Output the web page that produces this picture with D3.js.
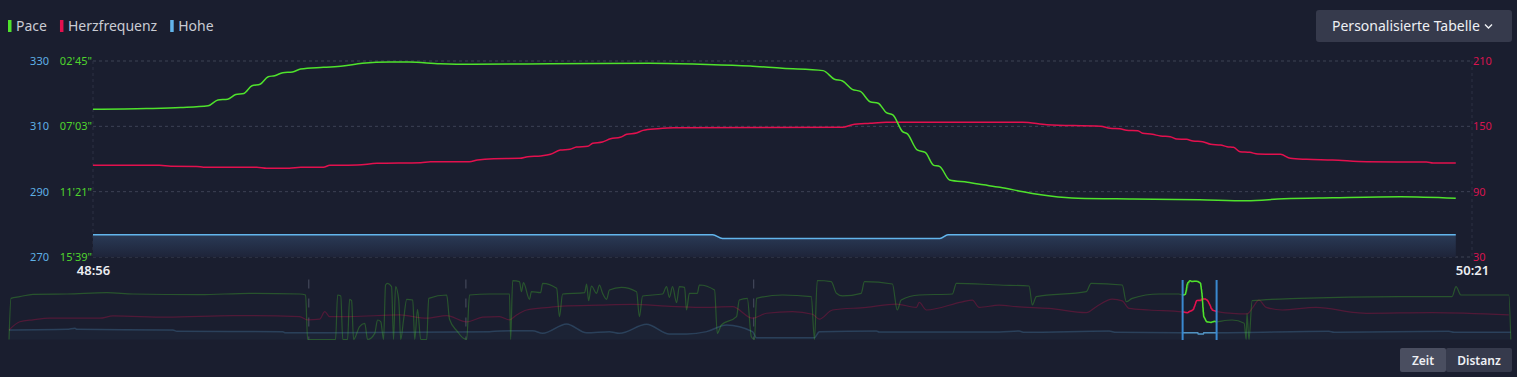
<!DOCTYPE html>
<html>
<head>
<meta charset="utf-8">
<script src="https://cdn.jsdelivr.net/npm/d3@7"></script>
<style>
html, body { margin: 0; background: #1a1e2f; overflow: hidden; }
svg { display: block; font-family: "Noto Sans", "Open Sans", sans-serif; }
</style>
</head>
<body>
<div id="chart"></div>
<script>
// zoomed window, seconds of the activity (48:56 -> 50:21)
const winStart = 2936
const winEnd = 3021

// main chart, t = seconds after winStart
const paceT = [0, 3.3, 5.4, 7.1, 7.7, 8.3, 8.8, 9.3, 9.8, 10.3, 10.8, 11.2, 11.7, 12.3, 12.8, 14.2, 15.4, 16.6, 18.3, 19.5, 21.4, 23.4, 28.2, 34.3, 37.4, 40.5, 42.5, 45.0, 45.7, 46.2, 46.8, 47.3, 47.9, 48.4, 48.9, 49.3, 49.9, 50.2, 50.8, 51.3, 51.8, 52.2, 52.8, 53.9, 54.9, 55.9, 57.0, 57.9, 59.0, 60.7, 64.1, 68.2, 71.1, 73.4, 76.4, 80.6, 84.0]
const paceV = [356, 353, 349, 342, 319, 316, 297, 293, 263, 257, 227, 223, 211, 208, 197, 190, 185, 174, 169, 169, 176, 178, 176, 174, 178, 185, 194, 203, 237, 244, 277, 285, 326, 332, 369, 378, 444, 453, 516, 526, 576, 582, 635, 644, 654, 664, 677, 688, 698, 707, 710, 713, 717, 709, 705, 701, 707]

const hrT = [0, 4.1, 4.8, 6.4, 6.8, 10.1, 10.7, 12.1, 12.8, 14.2, 14.6, 16.3, 17.5, 20.2, 20.8, 23.2, 23.7, 24.7, 26.3, 26.8, 27.6, 28.2, 28.8, 29.4, 29.8, 30.5, 30.8, 31.4, 31.9, 32.5, 32.9, 33.5, 33.9, 34.8, 35.8, 46.2, 46.8, 47.9, 48.9, 57.3, 58.8, 62.1, 62.7, 63.3, 63.7, 64.4, 64.7, 65.3, 65.8, 66.4, 66.8, 67.4, 67.8, 68.4, 68.9, 69.5, 69.9, 70.3, 70.7, 71.3, 71.8, 73.2, 73.8, 74.8, 76.4, 78.5, 82.2, 82.6, 84.0]
const hrV = [114.2, 114.2, 113.3, 113.2, 112.4, 112.4, 111.5, 111.5, 112.4, 112.4, 114.2, 114.5, 116.0, 116.6, 117.5, 117.5, 119.1, 120.3, 120.6, 122.1, 122.8, 124.3, 128.3, 128.9, 131.0, 131.7, 134.4, 135.6, 138.6, 139.9, 142.7, 143.9, 146.3, 147.8, 148.7, 149.1, 151.5, 152.8, 153.7, 153.7, 151.5, 150.0, 148.2, 147.8, 146.4, 146.0, 143.6, 142.7, 141.1, 140.5, 138.4, 138.1, 136.5, 135.9, 133.5, 132.9, 131.3, 130.7, 126.7, 126.1, 124.6, 124.3, 120.6, 119.7, 119.1, 117.5, 117.2, 116.3, 116.3]

const elevT = [0, 38.2, 38.8, 52.2, 52.7, 84.0]
const elevV = [276.8, 276.8, 275.7, 275.7, 276.8, 276.8]

// axis ticks
const paceTicks = [165, 423, 681, 939]
const hrTicks = [30, 90, 150, 210]
const elevTicks = [270, 290, 310, 330]

// overview, whole activity, t = seconds
const ovPaceT = [0, 5, 27, 60, 145, 245, 310, 477, 602, 727, 742, 747, 817, 822, 830, 835, 847, 852, 857, 862, 877, 890, 897, 915, 922, 930, 937, 942, 947, 957, 962, 967, 975, 980, 987, 995, 1010, 1015, 1022, 1030, 1045, 1050, 1095, 1102, 1122, 1137, 1145, 1152, 1202, 1252, 1255, 1260, 1277, 1282, 1287, 1302, 1307, 1330, 1335, 1370, 1377, 1385, 1440, 1445, 1450, 1457, 1470, 1477, 1485, 1495, 1502, 1532, 1570, 1577, 1585, 1635, 1645, 1652, 1660, 1670, 1677, 1690, 1695, 1702, 1722, 1727, 1765, 1772, 1782, 1820, 1827, 1847, 1857, 1865, 1870, 1935, 2007, 2015, 2022, 2057, 2070, 2085, 2132, 2140, 2210, 2222, 2232, 2277, 2360, 2370, 2477, 2552, 2560, 2570, 2695, 2707, 2785, 2795, 2810, 2877, 2927, 2936, 2944, 2948, 2952, 2955, 2975, 2981, 2984, 2988, 2992, 2996, 3010, 3020, 3060, 3090, 3095, 3097, 3102, 3110, 3227, 3477, 3610, 3620, 3632, 3752, 3757]
const ovPaceV = [940, 399, 377, 346, 342, 325, 342, 351, 333, 342, 355, 940, 940, 355, 368, 940, 940, 412, 430, 940, 770, 727, 940, 858, 683, 705, 940, 224, 202, 246, 940, 246, 421, 940, 683, 412, 421, 940, 543, 940, 940, 399, 355, 674, 836, 924, 940, 355, 342, 342, 940, 167, 180, 312, 193, 412, 312, 325, 202, 268, 640, 342, 325, 211, 430, 237, 333, 224, 333, 412, 290, 255, 312, 640, 368, 342, 246, 386, 246, 456, 246, 255, 552, 333, 333, 224, 290, 858, 749, 640, 421, 399, 902, 940, 399, 355, 377, 940, 160, 180, 333, 368, 333, 180, 211, 552, 421, 355, 342, 202, 224, 237, 486, 377, 312, 202, 224, 443, 399, 342, 342, 356, 342, 263, 200, 169, 176, 203, 326, 635, 677, 707, 713, 707, 683, 727, 940, 596, 940, 430, 399, 377, 377, 246, 355, 355, 940]

const ovHrT = [0, 27, 60, 102, 227, 260, 395, 560, 727, 747, 777, 790, 802, 852, 977, 1045, 1095, 1145, 1185, 1227, 1252, 1270, 1295, 1352, 1385, 1477, 1560, 1645, 1727, 1810, 1860, 1895, 1960, 2010, 2027, 2060, 2145, 2220, 2270, 2277, 2295, 2385, 2410, 2427, 2477, 2520, 2602, 2695, 2720, 2760, 2785, 2802, 2852, 2936, 2950, 2960, 2966, 2972, 2984, 2993, 3000, 3008, 3012, 3020, 3060, 3097, 3110, 3127, 3145, 3185, 3270, 3370, 3395, 3560, 3752]
const ovHrV = [59, 84, 90, 95, 95, 102, 98, 103, 100, 90, 92, 115, 100, 100, 105, 95, 103, 84, 98, 100, 90, 105, 120, 128, 132, 135, 137, 132, 128, 130, 95, 110, 115, 107, 92, 120, 128, 138, 128, 143, 120, 145, 150, 128, 135, 130, 125, 112, 130, 153, 148, 125, 120, 114, 112, 120, 134, 149, 154, 154, 146, 125, 119, 116, 110, 108, 125, 150, 128, 120, 128, 112, 110, 112, 105]

const ovElevT = [0, 145, 165, 170, 410, 420, 685, 690, 1202, 1227, 1310, 1335, 1395, 1445, 1502, 1527, 1595, 1652, 1695, 1745, 1795, 1860, 1870, 2015, 2027, 2170, 2177, 2477, 2527, 2540, 2752, 2770, 2936, 2974, 2975, 2988, 2989, 3020, 3302, 3315, 3602, 3615, 3757]
const ovElevV = [279.7, 280.3, 281.4, 280.3, 279.7, 278.3, 278.0, 276.9, 278.0, 278.6, 279.0, 276.3, 285.8, 276.9, 278.0, 276.3, 285.4, 275.6, 275.6, 278.0, 284.7, 278.0, 271.9, 271.9, 278.0, 278.6, 277.6, 277.6, 278.6, 277.3, 278.6, 277.3, 276.8, 276.8, 275.7, 275.7, 276.8, 276.8, 278.3, 277.3, 278.3, 277.3, 277.3]
const ovEnd = 3760

const lapMarks = [750, 1143, 1863]

const legendItems = ["Pace", "Herzfrequenz", "Hohe"]
const modeLabels = ["Zeit", "Distanz"]

const colors = {pace: "#4fe22c", hr: "#e3104e", elev: "#62b5ec"}

const zip = (t, v, off = 0) => t.map((d, i) => ({t: d + off, v: v[i]}))
const pad2 = n => String(n).padStart(2, "0")
const fmtPace = s => `${pad2(Math.floor(s / 60))}'${pad2(s % 60)}"`
const fmtClock = s => `${pad2(Math.floor(s / 60))}:${pad2(s % 60)}`

const chart = function (id) {
    const width = 1517
    const height = 377
    const plot = {left: 93, right: 1472, top: 61, bottom: 257}
    const ov = {left: 9, right: 1512, top: 280.5, bottom: 339.5}

    const svg = d3.select("#" + id)
        .append("svg")
        .attr("width", width)
        .attr("height", height)

    const defs = svg.append("defs")
    const grad = defs.append("linearGradient")
        .attr("id", "elevFill")
        .attr("x1", 0).attr("x2", 0).attr("y1", 0).attr("y2", 1)
    grad.append("stop").attr("offset", "0%").attr("stop-color", "#2a3a56")
    grad.append("stop").attr("offset", "100%").attr("stop-color", "#1e2439")

    defs.append("clipPath").attr("id", "brushClip")
        .append("rect")

    const layer_bg = svg.append("g")
    const layer_grid = svg.append("g")
    const layer_axes = svg.append("g")
    const layer_lines = svg.append("g")
    const layer_overview = svg.append("g")
    const layer_legend = svg.append("g")
    const layer_buttons = svg.append("g")

    layer_bg.append("rect")
        .attr("width", width)
        .attr("height", height)
        .attr("fill", "#1a1e2f")

    // scales
    const x = d3.scaleLinear().domain([0, winEnd - winStart]).range([plot.left, plot.right])
    const yPace = d3.scaleLinear().domain([939, 165]).range([plot.bottom, plot.top])
    const yHr = d3.scaleLinear().domain([30, 210]).range([plot.bottom, plot.top])
    const yElev = d3.scaleLinear().domain([270, 330]).range([plot.bottom, plot.top])

    // grid
    layer_grid.selectAll("line.h")
        .data(hrTicks)
        .enter().append("line")
        .attr("x1", plot.left).attr("x2", plot.right)
        .attr("y1", d => yHr(d)).attr("y2", d => yHr(d))
        .attr("stroke", "#3d4255")
        .attr("stroke-dasharray", "3,3")
    layer_grid.selectAll("line.v")
        .data([plot.left, plot.right])
        .enter().append("line")
        .attr("x1", d => d).attr("x2", d => d)
        .attr("y1", plot.top).attr("y2", plot.bottom)
        .attr("stroke", "#2c3144")
        .attr("stroke-dasharray", "3,3")

    // axes
    const styleAxis = (g, color, size) => {
        g.select(".domain").remove()
        g.selectAll("text")
            .attr("fill", color)
            .style("font-size", size)
            .style("font-family", "'Noto Sans', sans-serif")
    }

    layer_axes.append("g")
        .attr("transform", "translate(49,0)")
        .call(d3.axisLeft(yElev).tickValues(elevTicks).tickSize(0).tickPadding(0))
        .call(g => styleAxis(g, "#5fb0e6", "11px"))

    layer_axes.append("g")
        .attr("transform", "translate(93,0)")
        .call(d3.axisLeft(yPace).tickValues(paceTicks).tickSize(0).tickPadding(1).tickFormat(fmtPace))
        .call(g => styleAxis(g, "#4fd42d", "11px"))

    layer_axes.append("g")
        .attr("transform", `translate(${plot.right},0)`)
        .call(d3.axisRight(yHr).tickValues(hrTicks).tickSize(0).tickPadding(1))
        .call(g => styleAxis(g, "#d81450", "11px"))

    layer_axes.append("g")
        .attr("transform", `translate(0,${plot.bottom})`)
        .call(d3.axisBottom(x).tickValues([0, winEnd - winStart]).tickSize(0).tickPadding(9)
            .tickFormat(d => fmtClock(winStart + d)))
        .call(g => styleAxis(g, "#eceef2", "13px"))
        .selectAll("text").style("font-weight", 600)

    // main series
    const elevData = zip(elevT, elevV)
    layer_lines.append("path")
        .datum(elevData)
        .attr("fill", "url(#elevFill)")
        .attr("d", d3.area().curve(d3.curveMonotoneX)
            .x(d => x(d.t)).y0(plot.bottom).y1(d => yElev(d.v)))
    layer_lines.append("path")
        .datum(elevData)
        .attr("fill", "none")
        .attr("stroke", colors.elev)
        .attr("stroke-width", 1.5)
        .attr("d", d3.line().curve(d3.curveMonotoneX).x(d => x(d.t)).y(d => yElev(d.v)))

    layer_lines.append("path")
        .datum(zip(hrT, hrV))
        .attr("fill", "none")
        .attr("stroke", colors.hr)
        .attr("stroke-width", 1.5)
        .attr("d", d3.line().curve(d3.curveMonotoneX).x(d => x(d.t)).y(d => yHr(d.v)))

    layer_lines.append("path")
        .datum(zip(paceT, paceV))
        .attr("fill", "none")
        .attr("stroke", colors.pace)
        .attr("stroke-width", 1.5)
        .attr("d", d3.line().curve(d3.curveMonotoneX).x(d => x(d.t)).y(d => yPace(d.v)))

    // overview
    const ox = d3.scaleLinear().domain([0, ovEnd]).range([ov.left, ov.right])
    const oyPace = d3.scaleLinear().domain([939, 165]).range([ov.bottom, ov.top]).clamp(true)
    const oyHr = d3.scaleLinear().domain([30, 210]).range([ov.bottom, ov.top]).clamp(true)
    const oyElev = d3.scaleLinear().domain([270, 330]).range([ov.bottom, ov.top]).clamp(true)

    const ovLine = yScale => d3.line().curve(d3.curveMonotoneX).x(d => ox(d.t)).y(d => yScale(d.v))

    layer_overview.selectAll("line.lap")
        .data(lapMarks)
        .enter().append("line")
        .attr("x1", d => ox(d)).attr("x2", d => ox(d))
        .attr("y1", ov.top - 1).attr("y2", ov.bottom)
        .attr("stroke", "#4a4f62")
        .attr("stroke-dasharray", "9,10")

    const ovElev = zip(ovElevT, ovElevV)
    layer_overview.append("path")
        .datum(ovElev)
        .attr("fill", "#2a3550")
        .attr("opacity", 0.2)
        .attr("d", d3.area().curve(d3.curveMonotoneX)
            .x(d => ox(d.t)).y0(ov.bottom).y1(d => oyElev(d.v)))
    layer_overview.append("path")
        .datum(ovElev)
        .attr("fill", "none")
        .attr("stroke", colors.elev)
        .attr("stroke-opacity", 0.22)
        .attr("stroke-width", 1.5)
        .attr("d", ovLine(oyElev))
    layer_overview.append("path")
        .datum(zip(ovHrT, ovHrV))
        .attr("fill", "none")
        .attr("stroke", colors.hr)
        .attr("stroke-opacity", 0.28)
        .attr("stroke-width", 1.2)
        .attr("d", ovLine(oyHr))
    layer_overview.append("path")
        .datum(zip(ovPaceT, ovPaceV))
        .attr("fill", "none")
        .attr("stroke", colors.pace)
        .attr("stroke-opacity", 0.28)
        .attr("stroke-width", 1.2)
        .attr("d", ovLine(oyPace))

    // selected window, full colour
    const bx0 = ox(winStart)
    const bx1 = ox(winEnd)
    svg.select("#brushClip rect")
        .attr("x", bx0).attr("y", ov.top - 5)
        .attr("width", bx1 - bx0).attr("height", ov.bottom - ov.top + 10)
    const sel = layer_overview.append("g").attr("clip-path", "url(#brushClip)")
    sel.append("path")
        .datum(zip(elevT, elevV, winStart))
        .attr("fill", "none")
        .attr("stroke", colors.elev)
        .attr("stroke-opacity", 0.7)
        .attr("stroke-width", 1.5)
        .attr("d", ovLine(oyElev))
    sel.append("path")
        .datum(zip(hrT, hrV, winStart))
        .attr("fill", "none")
        .attr("stroke", colors.hr)
        .attr("stroke-width", 1.5)
        .attr("d", ovLine(oyHr))
    sel.append("path")
        .datum(zip(paceT, paceV, winStart))
        .attr("fill", "none")
        .attr("stroke", colors.pace)
        .attr("stroke-width", 1.5)
        .attr("d", ovLine(oyPace))

    layer_overview.selectAll("line.brush")
        .data([bx0, bx1])
        .enter().append("line")
        .attr("x1", d => d).attr("x2", d => d)
        .attr("y1", ov.top - 0.5).attr("y2", ov.bottom + 0.5)
        .attr("stroke", "#3a89d0")
        .attr("stroke-width", 2)

    // legend
    const legendColors = [colors.pace, colors.hr, colors.elev]
    let lx = 8
    legendItems.forEach((name, i) => {
        const g = layer_legend.append("g").attr("transform", `translate(${lx},0)`)
        g.append("rect")
            .attr("x", 0).attr("y", 20)
            .attr("width", 3.5).attr("height", 12)
            .attr("fill", legendColors[i])
        const t = g.append("text")
            .attr("x", 8).attr("y", 31)
            .attr("fill", "#c9cbd3")
            .style("font-size", "14px")
            .text(name)
        lx += 8 + t.node().getComputedTextLength() + 13
    })

    // table button
    layer_buttons.append("rect")
        .attr("x", 1316).attr("y", 10)
        .attr("width", 196).attr("height", 32)
        .attr("rx", 3)
        .attr("fill", "#363a4c")
    layer_buttons.append("text")
        .attr("x", 1332).attr("y", 31)
        .attr("fill", "#eef0f4")
        .style("font-size", "14px")
        .text("Personalisierte Tabelle")
    layer_buttons.append("path")
        .attr("d", "M1485,24.5 l3.5,3.5 l3.5,-3.5")
        .attr("fill", "none")
        .attr("stroke", "#eef0f4")
        .attr("stroke-width", 1.4)

    // Zeit / Distanz toggle
    const seg = [{x: 1400, w: 46, fill: "#4a4e60"}, {x: 1446, w: 66, fill: "#363a4c"}]
    seg.forEach((s, i) => {
        layer_buttons.append("rect")
            .attr("x", s.x).attr("y", 348)
            .attr("width", s.w).attr("height", 24)
            .attr("rx", 2)
            .attr("fill", s.fill)
        layer_buttons.append("text")
            .attr("x", s.x + s.w / 2).attr("y", 365)
            .attr("text-anchor", "middle")
            .attr("fill", "#eef0f4")
            .style("font-size", "12px")
            .style("font-weight", 600)
            .text(modeLabels[i])
    })
}

chart("chart")
</script>
</body>
</html>
